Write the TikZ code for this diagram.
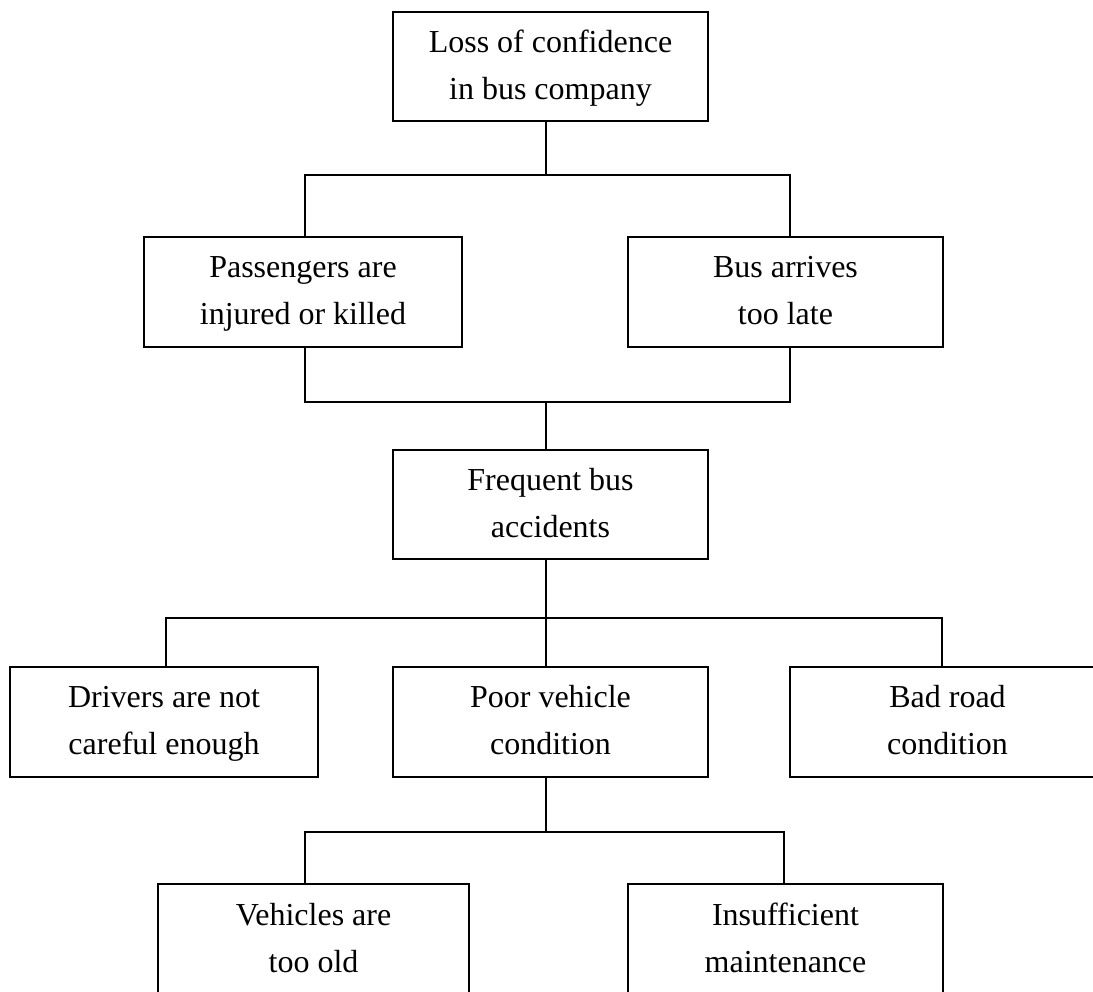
\documentclass[tikz,border=0pt]{standalone}
\usepackage{fontspec}
\setmainfont{Liberation Serif}
% two struts lines of equal height and depth in every box
\newcommand\twolines[2]{\strut #1\\\strut #2}
\begin{document}
\begin{tikzpicture}[x=1pt,y=-1pt,
  box/.style={draw, line width=1.4pt, rectangle, inner sep=0pt,
    minimum width=315pt, minimum height=110pt, align=center,
    font=\fontsize{32}{47}\selectfont},
  link/.style={line width=1.4pt}]
\useasboundingbox (0,0) rectangle (1093,992);
\begin{scope}
\clip (0,0) rectangle (1093,992);
% causes and effects
\node[box, minimum width=315pt, minimum height=109pt] (loss) at (550.5,66.5) {\twolines{Loss of confidence}{in bus company}};
\node[box, minimum width=318pt] (pass) at (303,292) {\twolines{Passengers are}{injured or killed}};
\node[box] (late) at (785.5,292) {\twolines{Bus arrives}{too late}};
\node[box, minimum height=109pt] (freq) at (550.5,504.5) {\twolines{Frequent bus}{accidents}};
\node[box, minimum width=308pt] (drv) at (164,722) {\twolines{Drivers are not}{careful enough}};
\node[box] (poor) at (550.5,722) {\twolines{Poor vehicle}{condition}};
\node[box] (road) at (947.5,722) {\twolines{Bad road}{condition}};
\node[box, minimum width=311pt, minimum height=112pt] (old) at (313.5,940) {\twolines{Vehicles are}{too old}};
\node[box, minimum width=315pt, minimum height=112pt] (maint) at (785.5,940) {\twolines{Insufficient}{maintenance}};
% junction points of the tree
\coordinate (j1) at (546,175);
\coordinate (j1l) at (305,175);
\coordinate (j1r) at (790,175);
\coordinate (j2) at (546,402);
\coordinate (j2l) at (305,402);
\coordinate (j2r) at (790,402);
\coordinate (j3) at (546,618);
\coordinate (j3l) at (166,618);
\coordinate (j3r) at (942,618);
\coordinate (j4) at (546,832);
\coordinate (j4l) at (305,832);
\coordinate (j4r) at (784,832);
% connectors
\draw[link] (j1 |- loss.south) -- (j1);
\draw[link] (j1l |- pass.north) -- (j1l) -- (j1r) -- (j1r |- late.north);
\draw[link] (j2l |- pass.south) -- (j2l) -- (j2r) -- (j2r |- late.south);
\draw[link] (j2) -- (j2 |- freq.north);
\draw[link] (j3 |- freq.south) -- (j3);
\draw[link] (j3l |- drv.north) -- (j3l) -- (j3r) -- (j3r |- road.north);
\draw[link] (j3) -- (j3 |- poor.north);
\draw[link] (j4 |- poor.south) -- (j4);
\draw[link] (j4l |- old.north) -- (j4l) -- (j4r) -- (j4r |- maint.north);
\end{scope}
\end{tikzpicture}
\end{document}
